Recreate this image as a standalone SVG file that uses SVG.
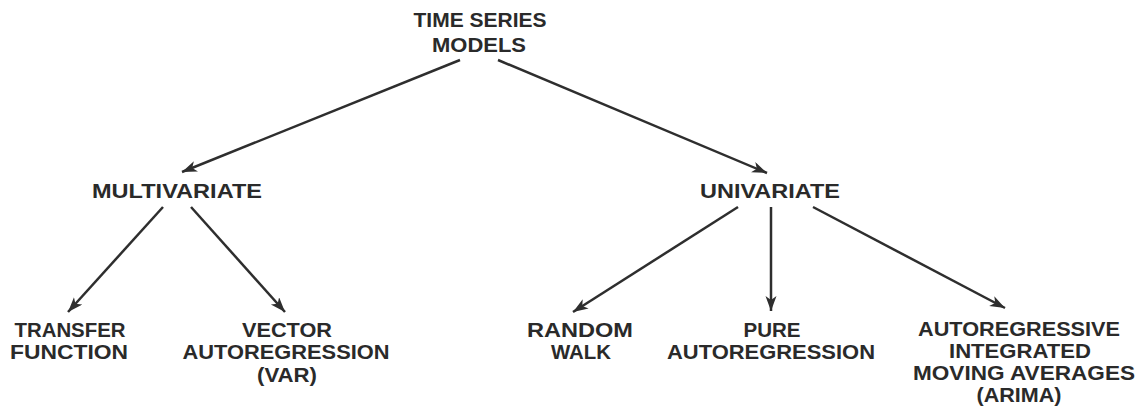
<svg xmlns="http://www.w3.org/2000/svg" width="1141" height="416" viewBox="0 0 1141 416">
  <style>
    .t { font-family: "Liberation Sans", Arial, sans-serif; font-weight: 700; font-size: 19.5px; fill: #2a2a2a; text-anchor: middle; }
    .c { stroke: #2e2e2e; stroke-width: 2.5; fill: none; }
  </style>
  <defs>
    <marker id="ah" markerUnits="userSpaceOnUse" markerWidth="16" markerHeight="12" refX="15" refY="5.5" orient="auto" viewBox="0 0 16 12">
      <path d="M0,0 L15,5.5 L0,11 L4,5.5 z" fill="#2e2e2e"/>
    </marker>
  </defs>
  <rect width="1141" height="416" fill="#ffffff"/>

  <g id="connectors">
    <line class="c" x1="460" y1="60" x2="182" y2="172" marker-end="url(#ah)"/>
    <line class="c" x1="498" y1="60" x2="767" y2="173" marker-end="url(#ah)"/>
    <line class="c" x1="163" y1="207" x2="68" y2="312" marker-end="url(#ah)"/>
    <line class="c" x1="191" y1="207" x2="285" y2="312" marker-end="url(#ah)"/>
    <line class="c" x1="738" y1="207" x2="573" y2="312" marker-end="url(#ah)"/>
    <line class="c" x1="771" y1="207" x2="771" y2="311" marker-end="url(#ah)"/>
    <line class="c" x1="813" y1="207" x2="1005" y2="308" marker-end="url(#ah)"/>
  </g>

  <g id="time-series-models">
    <text class="t" x="480" y="27" textLength="133" lengthAdjust="spacingAndGlyphs">TIME SERIES</text>
    <text class="t" x="479" y="52" textLength="94" lengthAdjust="spacingAndGlyphs">MODELS</text>
  </g>
  <g id="multivariate">
    <text class="t" x="177" y="198" textLength="170" lengthAdjust="spacingAndGlyphs">MULTIVARIATE</text>
  </g>
  <g id="univariate">
    <text class="t" x="770" y="198" textLength="140" lengthAdjust="spacingAndGlyphs">UNIVARIATE</text>
  </g>
  <g id="transfer-function">
    <text class="t" x="70" y="337" textLength="111" lengthAdjust="spacingAndGlyphs">TRANSFER</text>
    <text class="t" x="69" y="359" textLength="118" lengthAdjust="spacingAndGlyphs">FUNCTION</text>
  </g>
  <g id="var">
    <text class="t" x="287" y="337" textLength="90" lengthAdjust="spacingAndGlyphs">VECTOR</text>
    <text class="t" x="286" y="359" textLength="207" lengthAdjust="spacingAndGlyphs">AUTOREGRESSION</text>
    <text class="t" x="287" y="382" textLength="60" lengthAdjust="spacingAndGlyphs">(VAR)</text>
  </g>
  <g id="random-walk">
    <text class="t" x="580" y="337" textLength="106" lengthAdjust="spacingAndGlyphs">RANDOM</text>
    <text class="t" x="581" y="359" textLength="60" lengthAdjust="spacingAndGlyphs">WALK</text>
  </g>
  <g id="pure-autoregression">
    <text class="t" x="772" y="337" textLength="57" lengthAdjust="spacingAndGlyphs">PURE</text>
    <text class="t" x="771" y="359" textLength="208" lengthAdjust="spacingAndGlyphs">AUTOREGRESSION</text>
  </g>
  <g id="arima">
    <text class="t" x="1019" y="336" textLength="202" lengthAdjust="spacingAndGlyphs">AUTOREGRESSIVE</text>
    <text class="t" x="1020" y="358" textLength="142" lengthAdjust="spacingAndGlyphs">INTEGRATED</text>
    <text class="t" x="1024" y="380" textLength="222" lengthAdjust="spacingAndGlyphs">MOVING AVERAGES</text>
    <text class="t" x="1019" y="402" textLength="85" lengthAdjust="spacingAndGlyphs">(ARIMA)</text>
  </g>
</svg>
